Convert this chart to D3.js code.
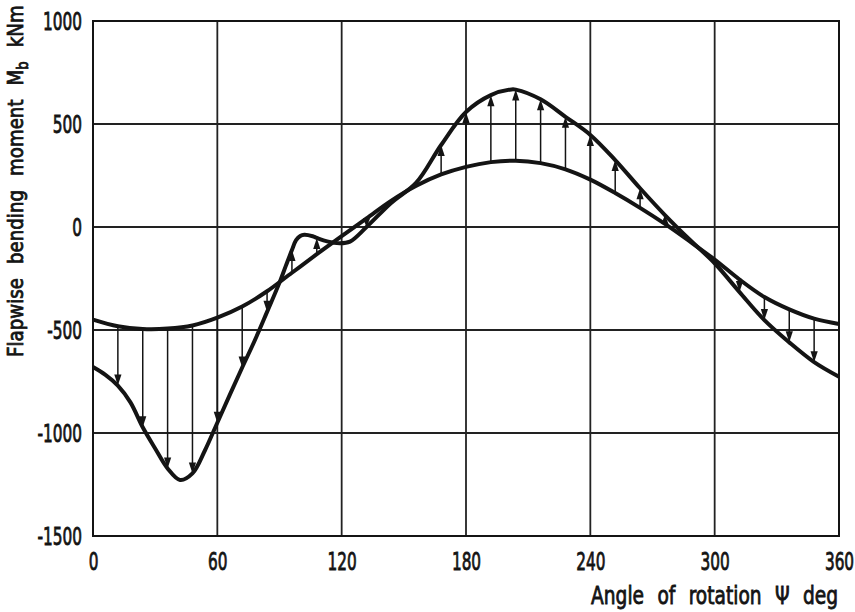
<!DOCTYPE html>
<html>
<head>
<meta charset="utf-8">
<script src="https://cdn.jsdelivr.net/npm/d3@7"></script>
<style>
  html, body { margin: 0; padding: 0; background: #fff; }
  svg { display: block; }
  text { font-family: "DejaVu Sans Condensed", "DejaVu Sans", sans-serif; fill: #141414; stroke: #141414; stroke-width: 0.8px; }
</style>
</head>
<body>
<svg id="chart" width="855" height="612"></svg>
<script>
// Rotation angle grid (deg) and tick labels
const angleTicks = [0, 60, 120, 180, 240, 300, 360];
const momentTicks = [1000, 500, 0, -500, -1000, -1500];

// Quasi-steady flapwise bending moment (kNm)
const steadyAngle = [0, 12, 24, 36, 48, 60, 72, 84, 96, 108, 120, 132, 144, 156, 168, 180, 192, 204, 216, 228, 240, 252, 264, 276, 288, 300, 312, 324, 336, 348, 360];
const steadyMoment = [-450, -482, -495, -493, -478, -440, -386, -312, -222, -132, -44, 42, 128, 200, 255, 292, 315, 322, 310, 280, 230, 165, 93, 15, -70, -158, -255, -340, -400, -445, -471];

// Flapwise bending moment with dynamic response (kNm)
const dynamicAngle = [0, 6, 12, 18, 24, 30, 36, 42, 48, 54, 60, 66, 72, 78, 84, 90, 93, 96, 98, 100, 102, 106, 108, 113, 119, 124, 132, 144, 156, 168, 180, 192, 202, 204, 216, 228, 240, 252, 264, 276, 288, 300, 312, 324, 336, 348, 360];
const dynamicMoment = [-680, -718, -770, -850, -972, -1075, -1172, -1228, -1196, -1085, -950, -815, -682, -552, -412, -270, -190, -112, -64, -44, -38, -45, -53, -70, -79, -71, 0, 118, 215, 398, 558, 640, 668, 667, 620, 535, 447, 325, 188, 58, -62, -176, -316, -452, -560, -656, -727];

// Angles at which the difference between the two curves is marked by an arrow
const arrowAngles = [12, 24, 36, 48, 60, 72, 84, 96, 108, 132, 168, 180, 192, 204, 216, 228, 240, 252, 264, 276, 312, 324, 336, 348];

const svg = d3.select("#chart");
const plotLeft = 93, plotRight = 839, plotTop = 21, plotBottom = 536;

const x = d3.scaleLinear().domain([0, 360]).range([plotLeft, plotRight]);
const y = d3.scaleLinear().domain([-1500, 1000]).range([plotBottom, plotTop]);

const ink = "#141414";
const fmt = d => String(d); // plain hyphen for negative numbers

// Grid
const grid = svg.append("g").attr("stroke", "#222").attr("stroke-width", 1.8);
grid.selectAll("line.v").data(angleTicks.slice(1, -1)).join("line").attr("class", "v")
  .attr("x1", d => x(d)).attr("x2", d => x(d)).attr("y1", plotTop).attr("y2", plotBottom);
grid.selectAll("line.h").data(momentTicks.slice(1, -1)).join("line").attr("class", "h")
  .attr("y1", d => y(d)).attr("y2", d => y(d)).attr("x1", plotLeft).attr("x2", plotRight);

// Frame
svg.append("rect").attr("x", plotLeft).attr("y", plotTop)
  .attr("width", plotRight - plotLeft).attr("height", plotBottom - plotTop)
  .attr("fill", "none").attr("stroke", ink).attr("stroke-width", 2);

// Axes (labels only, the grid carries the ticks)
const gx = svg.append("g").attr("transform", `translate(0,${plotBottom})`)
  .call(d3.axisBottom(x).tickValues(angleTicks).tickSize(0).tickPadding(16).tickFormat(fmt));
gx.select(".domain").remove();

const gy = svg.append("g").attr("transform", `translate(${plotLeft},0)`)
  .call(d3.axisLeft(y).tickValues(momentTicks).tickSize(0).tickPadding(11).tickFormat(fmt));
gy.select(".domain").remove();

svg.selectAll(".tick text").attr("font-size", 25).attr("fill", ink).attr("stroke", ink)
  .attr("font-family", "DejaVu Sans Condensed, DejaVu Sans, sans-serif");

// Narrow lettering: squeeze the tick labels horizontally so "1000" is ~39px wide
const probe = gy.selectAll(".tick text").filter(d => d === 1000).node();
const sx = 39 / probe.getComputedTextLength();
gx.selectAll(".tick text").attr("transform", `scale(${sx},1)`);
gy.selectAll(".tick text").attr("x", -11 / sx).attr("transform", `scale(${sx},1)`);

// Curves
const line = d3.line().curve(d3.curveCatmullRom.alpha(0.5));
const steadyPts = steadyAngle.map((a, i) => [x(a), y(steadyMoment[i])]);
const dynamicPts = dynamicAngle.map((a, i) => [x(a), y(dynamicMoment[i])]);

// Arrows from the quasi-steady curve to the dynamic curve
const arrows = svg.append("g");
arrowAngles.forEach(a => {
  const from = steadyMoment[steadyAngle.indexOf(a)];
  const to = dynamicMoment[dynamicAngle.indexOf(a)];
  const px = x(a), y0 = y(from), y1 = y(to);
  const dir = y1 > y0 ? 1 : -1;
  const head = Math.min(11, Math.abs(y1 - y0));
  arrows.append("line").attr("x1", px).attr("x2", px).attr("y1", y0).attr("y2", y1 - dir * head * 0.8)
    .attr("stroke", ink).attr("stroke-width", 1.5);
  arrows.append("path")
    .attr("d", `M${px},${y1}L${px - 3.6},${y1 - dir * head}L${px + 3.6},${y1 - dir * head}Z`)
    .attr("fill", ink);
});

svg.append("path").attr("d", line(steadyPts)).attr("fill", "none").attr("stroke", ink).attr("stroke-width", 4);
svg.append("path").attr("d", line(dynamicPts)).attr("fill", "none").attr("stroke", ink).attr("stroke-width", 4);

// Axis titles, squeezed to the same narrow lettering
const xt = svg.append("text")
  .attr("text-anchor", "end").attr("font-size", 25).attr("word-spacing", 9)
  .text("Angle of rotation Ψ deg");
const xsx = 247 / xt.node().getComputedTextLength();
xt.attr("transform", `translate(${plotRight - 1},604) scale(${xsx},1)`);

const yt = svg.append("text")
  .attr("text-anchor", "start").attr("font-size", 22).attr("word-spacing", 9);
yt.append("tspan").text("Flapwise bending moment M");
yt.append("tspan").attr("font-size", 16).attr("dy", 5).text("b");
yt.append("tspan").attr("dy", -5).text(" kNm");
const ysx = 352 / yt.node().getComputedTextLength();
yt.attr("transform", `translate(23,357) rotate(-90) scale(${ysx},1)`);
</script>
</body>
</html>
